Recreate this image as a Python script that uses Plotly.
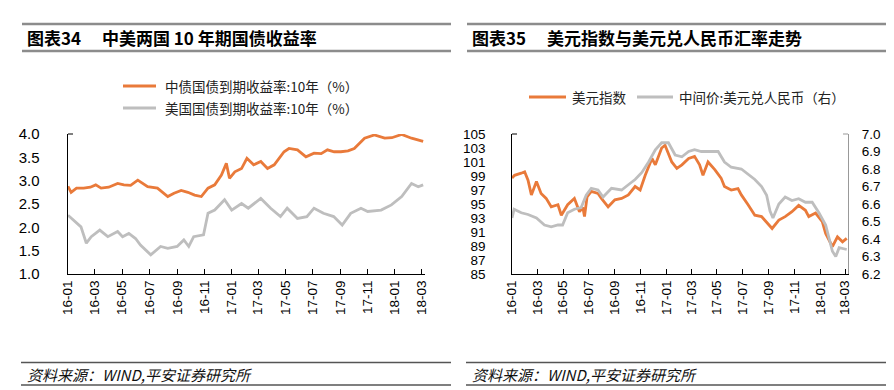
import plotly.graph_objects as go

# ---------------- data ----------------
tick_vals = ["2016-01-01", "2016-03-01", "2016-05-01", "2016-07-01", "2016-09-01", "2016-11-01",
             "2017-01-01", "2017-03-01", "2017-05-01", "2017-07-01", "2017-09-01", "2017-11-01",
             "2018-01-01", "2018-03-01"]
tick_text = ["16-01", "16-03", "16-05", "16-07", "16-09", "16-11", "17-01", "17-03",
             "17-05", "17-07", "17-09", "17-11", "18-01", "18-03"]

cn_dates = ["2016-01-01", "2016-01-08", "2016-01-20", "2016-02-05", "2016-02-20", "2016-03-03",
            "2016-03-15", "2016-04-01", "2016-04-21", "2016-05-05", "2016-05-20", "2016-06-05",
            "2016-06-27", "2016-07-19", "2016-08-11", "2016-08-25", "2016-09-10", "2016-09-25",
            "2016-10-10", "2016-10-25", "2016-11-09", "2016-11-24", "2016-12-09", "2016-12-20",
            "2016-12-27", "2017-01-08", "2017-01-23", "2017-02-04", "2017-02-19", "2017-03-07",
            "2017-03-22", "2017-04-06", "2017-04-28", "2017-05-09", "2017-05-28", "2017-06-16",
            "2017-07-04", "2017-07-20", "2017-08-03", "2017-08-18", "2017-09-02", "2017-09-18",
            "2017-10-02", "2017-10-25", "2017-11-16", "2017-12-09", "2017-12-25", "2018-01-16",
            "2018-02-07", "2018-02-20", "2018-03-05"]
cn_yield = [2.88, 2.75, 2.84, 2.84, 2.86, 2.91, 2.84, 2.86, 2.94, 2.91, 2.90, 3.01,
            2.87, 2.84, 2.66, 2.73, 2.79, 2.75, 2.69, 2.66, 2.84, 2.91, 3.12, 3.37,
            3.05, 3.19, 3.26, 3.48, 3.34, 3.41, 3.26, 3.34, 3.62, 3.69, 3.66, 3.51,
            3.59, 3.58, 3.66, 3.62, 3.62, 3.64, 3.69, 3.91, 3.98, 3.91, 3.92, 3.99,
            3.91, 3.87, 3.84]

us_dates = ["2016-01-01", "2016-01-16", "2016-01-30", "2016-02-11", "2016-02-22", "2016-03-12",
            "2016-03-30", "2016-04-21", "2016-05-02", "2016-05-16", "2016-05-31", "2016-06-11",
            "2016-07-04", "2016-07-26", "2016-08-11", "2016-09-01", "2016-09-16", "2016-09-27",
            "2016-10-08", "2016-10-30", "2016-11-09", "2016-11-24", "2016-12-16", "2017-01-01",
            "2017-01-23", "2017-02-07", "2017-03-07", "2017-03-29", "2017-04-20", "2017-05-05",
            "2017-05-28", "2017-06-18", "2017-07-04", "2017-07-25", "2017-08-17", "2017-09-05",
            "2017-09-24", "2017-10-17", "2017-11-01", "2017-12-01", "2017-12-24", "2018-01-16",
            "2018-02-07", "2018-02-22", "2018-03-05"]
us_yield = [2.26, 2.12, 2.01, 1.66, 1.80, 1.94, 1.80, 1.91, 1.80, 1.87, 1.76, 1.62,
            1.41, 1.59, 1.55, 1.59, 1.73, 1.59, 1.80, 1.84, 2.30, 2.37, 2.59, 2.37,
            2.51, 2.41, 2.62, 2.41, 2.23, 2.41, 2.19, 2.23, 2.41, 2.30, 2.23, 2.05,
            2.30, 2.41, 2.34, 2.37, 2.48, 2.66, 2.94, 2.87, 2.91]

dxy_dates = ["2016-01-01", "2016-01-07", "2016-01-23", "2016-01-31", "2016-02-08", "2016-02-16",
             "2016-02-28", "2016-03-10", "2016-03-22", "2016-04-03", "2016-04-19", "2016-04-27",
             "2016-05-12", "2016-05-28", "2016-06-09", "2016-06-17", "2016-06-21", "2016-06-27",
             "2016-07-07", "2016-07-23", "2016-07-31", "2016-08-16", "2016-09-01", "2016-09-17",
             "2016-10-03", "2016-10-19", "2016-10-31", "2016-11-12", "2016-11-28", "2016-12-06",
             "2016-12-21", "2016-12-29", "2017-01-14", "2017-01-26", "2017-02-07", "2017-02-23",
             "2017-03-09", "2017-03-21", "2017-03-29", "2017-04-10", "2017-04-26", "2017-05-11",
             "2017-05-19", "2017-06-04", "2017-06-20", "2017-06-28", "2017-07-14", "2017-07-30",
             "2017-08-15", "2017-09-01", "2017-09-09", "2017-09-25", "2017-10-10", "2017-10-26",
             "2017-11-11", "2017-11-27", "2017-12-05", "2017-12-21", "2018-01-06", "2018-01-14",
             "2018-01-30", "2018-02-11", "2018-02-23", "2018-03-05"]
dxy = [98.7, 99.1, 99.4, 99.6, 98.4, 96.3, 98.2, 96.5, 95.8, 94.6, 94.9, 93.4,
       94.9, 95.8, 93.9, 94.5, 93.2, 96.0, 96.8, 96.5, 95.8, 94.6, 95.6, 95.8,
       96.3, 97.5, 97.0, 99.1, 101.5, 100.6, 103.0, 103.4, 101.0, 100.1, 100.6, 101.5,
       101.8, 100.6, 99.1, 101.0, 99.9, 98.7, 97.5, 97.0, 97.2, 96.3, 94.9, 93.4,
       93.2, 92.0, 91.5, 92.7, 93.2, 93.9, 94.8, 94.1, 93.2, 93.7, 92.5, 90.8,
       88.9, 90.3, 89.6, 90.1]

cny_dates = ["2016-01-01", "2016-01-06", "2016-01-23", "2016-02-08", "2016-02-28", "2016-03-18",
             "2016-04-03", "2016-04-19", "2016-04-30", "2016-05-12", "2016-05-28", "2016-06-13",
             "2016-06-25", "2016-07-07", "2016-07-23", "2016-08-04", "2016-08-24", "2016-09-17",
             "2016-10-03", "2016-10-19", "2016-11-04", "2016-11-20", "2016-12-06", "2016-12-21",
             "2017-01-06", "2017-01-22", "2017-02-07", "2017-02-23", "2017-03-09", "2017-03-25",
             "2017-04-10", "2017-05-04", "2017-05-19", "2017-06-04", "2017-06-28", "2017-07-14",
             "2017-07-30", "2017-08-15", "2017-08-27", "2017-09-04", "2017-09-11", "2017-09-25",
             "2017-10-10", "2017-10-26", "2017-11-11", "2017-11-27", "2017-12-13", "2017-12-29",
             "2018-01-14", "2018-01-30", "2018-02-07", "2018-02-15", "2018-03-05"]
usdcny = [6.52, 6.57, 6.55, 6.54, 6.52, 6.48, 6.47, 6.48, 6.48, 6.55, 6.57, 6.58,
          6.65, 6.69, 6.68, 6.64, 6.69, 6.68, 6.71, 6.74, 6.78, 6.84, 6.91, 6.95,
          6.95, 6.88, 6.87, 6.90, 6.91, 6.90, 6.90, 6.90, 6.84, 6.81, 6.80, 6.77,
          6.74, 6.70, 6.65, 6.56, 6.52, 6.60, 6.64, 6.62, 6.63, 6.61, 6.61, 6.55,
          6.48, 6.33, 6.30, 6.35, 6.34]

# ---------------- styling ----------------
W, H = 894, 390
ORANGE = "#E97A3A"
GRAY = "#BEBEBE"
CJK = "Noto Sans CJK SC, Liberation Sans, Arial, sans-serif"
NUM = "Liberation Sans, Arial, sans-serif"
CLEAR = "rgba(0,0,0,0)"

def px(x):
    return x / W

def py(y):
    return (H - y) / H

fig = go.Figure()

fig.add_trace(go.Scatter(x=us_dates, y=us_yield, mode="lines", name="美国国债到期收益率:10年（%）",
                         line=dict(color=GRAY, width=2.8), xaxis="x", yaxis="y", showlegend=False))
fig.add_trace(go.Scatter(x=cn_dates, y=cn_yield, mode="lines", name="中债国债到期收益率:10年（%）",
                         line=dict(color=ORANGE, width=2.8), xaxis="x", yaxis="y", showlegend=False))
fig.add_trace(go.Scatter(x=dxy_dates, y=dxy, mode="lines", name="美元指数",
                         line=dict(color=ORANGE, width=2.8), xaxis="x2", yaxis="y2", showlegend=False))
fig.add_trace(go.Scatter(x=cny_dates, y=usdcny, mode="lines", name="中间价:美元兑人民币（右）",
                         line=dict(color=GRAY, width=2.8), xaxis="x2", yaxis="y3", showlegend=False))

ydom = [py(266), py(126)]
xrange_ = ["2016-01-01", "2018-03-08"]
xcommon = dict(type="date", range=xrange_, tickmode="array", tickvals=tick_vals, ticktext=tick_text,
               tickangle=-90, ticks="inside", ticklen=5, tickcolor="#000", tickwidth=1,
               showline=True, linecolor="#000", linewidth=1, showgrid=False, zeroline=False,
               automargin=False, tickfont=dict(family=NUM, size=13.5, color="#000"))
ycommon = dict(showgrid=False, zeroline=False, showline=True, linewidth=1, ticks="outside",
               tickcolor=CLEAR, domain=ydom, automargin=False)

fig.update_layout(
    template="none",
    width=W, height=H, margin=dict(l=0, r=0, t=0, b=0, pad=0, autoexpand=False),
    paper_bgcolor="white", plot_bgcolor="white",
    xaxis=dict(domain=[px(60), px(416.5)], anchor="y", **xcommon),
    yaxis=dict(anchor="x", range=[1, 4], dtick=0.5, tick0=1, tickformat=".1f", linecolor="#000",
               ticklen=17, ticksuffix="\u2002", tickfont=dict(family=NUM, size=15, color="#000"), **ycommon),
    xaxis2=dict(domain=[px(504), px(840)], anchor="y2", **xcommon),
    yaxis2=dict(anchor="x2", range=[85, 105], dtick=2, tick0=85, linecolor="#000",
                ticklen=16, ticksuffix="\u2002", tickfont=dict(family=NUM, size=13.5, color="#000"), **ycommon),
    yaxis3=dict(anchor="x2", overlaying="y2", side="right", range=[6.2, 7.0], dtick=0.1, tick0=6.2,
                tickformat=".1f", linecolor="#999", ticklen=10,
                tickfont=dict(family=NUM, size=13.5, color="#000"), **ycommon),
    showlegend=False,
)

shapes = []
annotations = []

# header bars and footers
for (x0, x1, tx, title) in [(14, 443, 17, "图表34　 中美两国 10 年期国债收益率"),
                            (459, 882, 462, "图表35　 美元指数与美元兑人民币汇率走势")]:
    shapes.append(dict(type="line", xref="paper", yref="paper", x0=px(x0), x1=px(x1), y0=py(16), y1=py(16),
                       line=dict(color="#8C8C8C", width=2.5)))
    shapes.append(dict(type="line", xref="paper", yref="paper", x0=px(x0), x1=px(x1), y0=py(43), y1=py(43),
                       line=dict(color="#8C8C8C", width=2.5)))
    annotations.append(dict(text="<b>" + title + "</b>", xref="paper", yref="paper", x=px(tx), y=py(30),
                            xanchor="left", yanchor="middle", showarrow=False,
                            font=dict(family=CJK, size=17, color="#000")))
    shapes.append(dict(type="line", xref="paper", yref="paper", x0=px(x0 - 1), x1=px(x1), y0=py(354.5), y1=py(354.5),
                       line=dict(color="#555", width=1.3)))
    shapes.append(dict(type="line", xref="paper", yref="paper", x0=px(x0 - 1), x1=px(x1), y0=py(377), y1=py(377),
                       line=dict(color="#555", width=1.3)))
    annotations.append(dict(text="<i>资料来源：WIND,平安证券研究所</i>", xref="paper", yref="paper",
                            x=px(tx), y=py(366), xanchor="left", yanchor="middle", showarrow=False,
                            font=dict(family=CJK, size=15, color="#111")))

# legends
legend_items = [
    (115, 148, 78, 155, "中债国债到期收益率:10年（%）", ORANGE),
    (115, 148, 100, 155, "美国国债到期收益率:10年（%）", GRAY),
    (521, 558, 89, 562, "美元指数", ORANGE),
    (629, 665, 89, 669, "中间价:美元兑人民币（右）", GRAY),
]
for (lx0, lx1, ly, tx, txt, col) in legend_items:
    shapes.append(dict(type="line", xref="paper", yref="paper", x0=px(lx0), x1=px(lx1), y0=py(ly), y1=py(ly),
                       line=dict(color=col, width=2.8)))
    annotations.append(dict(text=txt, xref="paper", yref="paper", x=px(tx), y=py(ly), xanchor="left",
                            yanchor="middle", showarrow=False, font=dict(family=CJK, size=13.5, color="#222")))

# small top ticks on the y axes
shapes.append(dict(type="line", xref="paper", yref="paper", x0=px(60), x1=px(65), y0=py(126), y1=py(126),
                   line=dict(color="#000", width=1)))
shapes.append(dict(type="line", xref="paper", yref="paper", x0=px(504), x1=px(509), y0=py(126), y1=py(126),
                   line=dict(color="#000", width=1)))
shapes.append(dict(type="line", xref="paper", yref="paper", x0=px(835), x1=px(840), y0=py(126), y1=py(126),
                   line=dict(color="#999", width=1)))

fig.update_layout(shapes=shapes, annotations=annotations)
fig.write_html("out.html")
